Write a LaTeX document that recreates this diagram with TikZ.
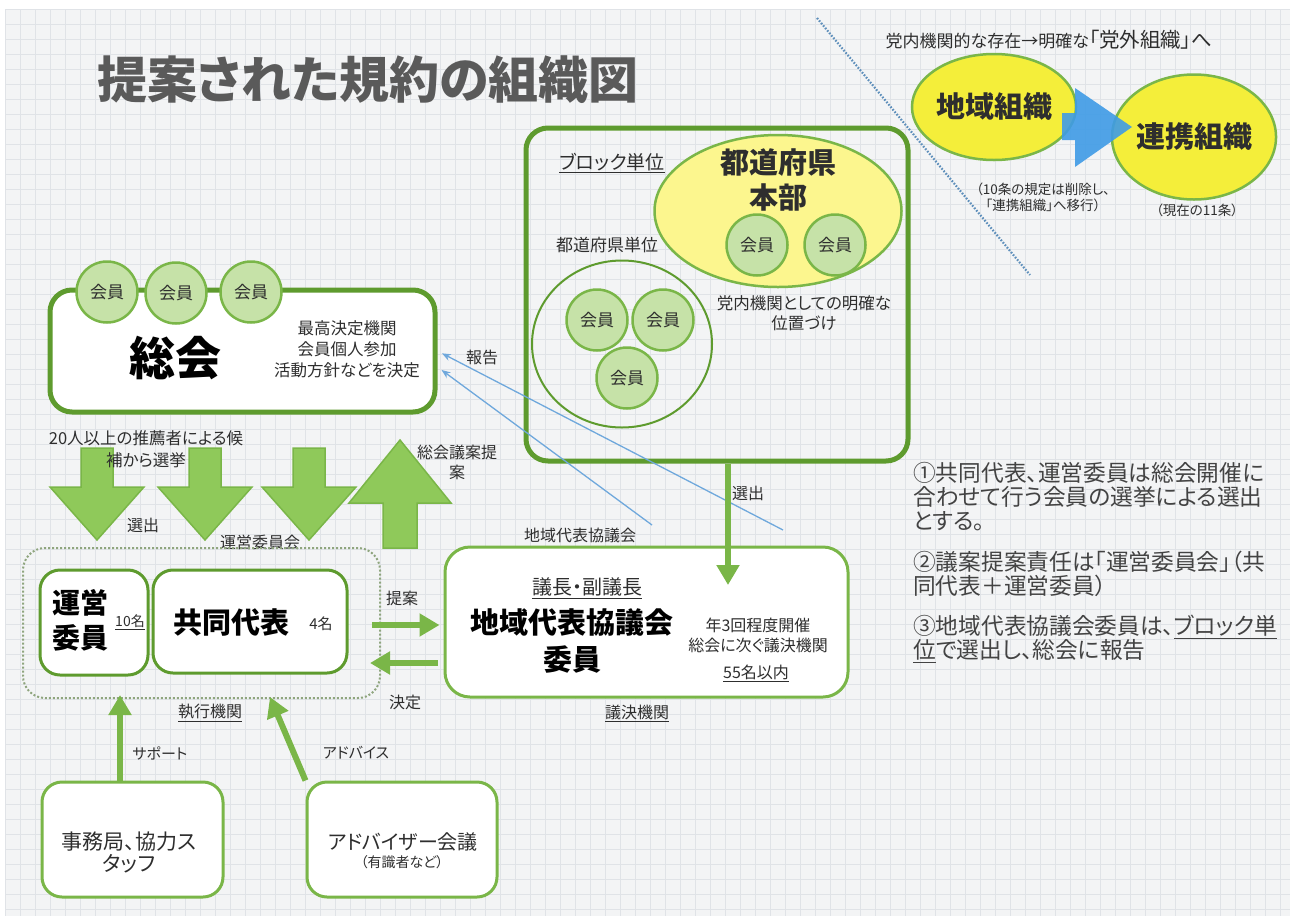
\documentclass[tikz,border=0pt]{standalone}
\usepackage{fontspec}
\setmainfont{Noto Sans CJK JP}[RawFeature=+palt]
\usetikzlibrary{shapes.geometric,arrows.meta}
\definecolor{gdark}{HTML}{5E9B2E}
\definecolor{gmid}{HTML}{7AB648}
\definecolor{gfill}{HTML}{C6E2A8}
\definecolor{garrow}{HTML}{8FC95A}
\definecolor{ybright}{HTML}{F4EE3A}
\definecolor{ypale}{HTML}{FCF68E}
\definecolor{bline}{HTML}{6FA8DC}
\definecolor{barrow}{HTML}{3F9BE6}
\definecolor{txt}{HTML}{2E2E2E}
\definecolor{ttl}{HTML}{5A5A5A}
\definecolor{bgc}{HTML}{F3F4F5}
\definecolor{gridc}{HTML}{E0E3E7}
\definecolor{dotc}{HTML}{8FA57E}
\newcommand\fs[2]{\fontsize{#1}{#2}\selectfont}
\tikzset{
 lbl/.style={inner sep=0pt, text=txt, align=center},
 member/.style={circle, draw=gmid, line width=2.5pt, fill=gfill, minimum size=61pt, inner sep=0pt, text=txt, font=\fs{17}{20}},
 boxthick/.style={draw=gdark, line width=5pt, rounded corners=22pt, fill=white, inner sep=0pt},
 boxthin/.style={draw=gmid, line width=3pt, rounded corners=20pt, fill=white, inner sep=0pt},
 yellowell/.style={ellipse, draw=gmid, line width=2.5pt, inner sep=0pt, text=txt},
 garr/.style={draw=gmid, line width=6pt, -{Triangle[width=22pt,length=20pt]}},
 blarr/.style={draw=bline, line width=1.3pt, -{Stealth[length=9pt,width=7pt]}},
 blockarr/.style={fill=garrow, draw=gmid, line width=1.5pt, line join=miter},
 dnarr/.pic={\path[blockarr] (-16,0)--(16,0)--(16,39)--(47,39)--(0,92)--(-47,39)--(-16,39)--cycle;},
 uparr/.pic={\path[blockarr] (0,0)--(51,63)--(17,63)--(17,108)--(-17,108)--(-17,63)--(-51,63)--cycle;},
}
\begin{document}
\begin{tikzpicture}[x=1pt,y=-1pt]
\useasboundingbox (0,0) rectangle (1292,919);
\fill[white] (0,0) rectangle (1292,919);
\fill[bgc] (5,9) rectangle (1290,916);
\foreach \gx in {5,20,...,1290} \draw[gridc, line width=0.6pt] (\gx,9) -- (\gx,916);
\foreach \gy in {9,24,...,916} \draw[gridc, line width=0.6pt] (5,\gy) -- (1290,\gy);

% title
\node[lbl, text=ttl, font=\fs{50}{50}\bfseries] (title) at (368,80) {提案された規約の組織図};

% dotted divider
\coordinate (dA) at (817,18);
\coordinate (dB) at (1030,275);
\draw[bline!85!black, line width=2.2pt, dash pattern=on 1.6pt off 1.6pt] (dA) -- (dB);

% top right
\node[lbl, font=\fs{17}{18}] (toptxt) at (1049,40) {党内機関的な存在→明確な{\fs{20.5}{20}「党外組織」へ}};
\node[yellowell, fill=ybright, minimum width=146pt, minimum height=106pt, font=\fs{29}{30}\bfseries] (chiiki) at (994,107) {地域組織};
\node[yellowell, fill=ybright, minimum width=148pt, minimum height=125pt, font=\fs{29}{30}\bfseries] (renkei) at (1194,137) {連携組織};
\fill[barrow, opacity=0.9] (1062,113)--(1075,113)--(1075,88)--(1132,127)--(1075,167)--(1075,140)--(1062,140)--cycle;
\node[lbl, font=\fs{13.5}{16}] (note10) at (1043,197) {（10条の規定は削除し、\\「連携組織」へ移行）};
\node[lbl, font=\fs{13.5}{16}] (note11) at (1197,210) {（現在の11条）};

% block
\node[boxthick, fill=none, minimum width=382pt, minimum height=333pt] (block) at (717,294.5) {};
\node[lbl, font=\fs{19}{20}] (blkunit) at (612,163) {\underline{ブロック単位}};
\node[yellowell, fill=ypale, minimum width=247pt, minimum height=152pt] (honbu) at (778,211) {};
\node[lbl, font=\fs{29}{35}\bfseries] (honbut) at (778,180) {都道府県\\本部};
\node[member] (hm1) at (757,245) {会員};
\node[member] (hm2) at (835,245) {会員};
\node[lbl, font=\fs{17}{20}] (prefunit) at (607,245) {都道府県単位};
\node[ellipse, draw=gdark, line width=2pt, minimum width=180pt, minimum height=167pt, inner sep=0pt] (prefc) at (622,344) {};
\node[member] (pm1) at (597,320) {会員};
\node[member] (pm2) at (663,320) {会員};
\node[member] (pm3) at (627,378) {会員};
\node[lbl, font=\fs{16.5}{20}] (toun) at (804,313) {党内機関としての明確な\\位置づけ};

% sokai
\node[boxthick, minimum width=385pt, minimum height=122pt] (sokai) at (242.5,351) {};
\node[member] (sm1) at (107,292) {会員};
\node[member] (sm2) at (176,293) {会員};
\node[member] (sm3) at (251,292) {会員};
\node[lbl, font=\fs{46}{46}\bfseries, text=black] (sokait) at (175,358) {総会};
\node[lbl, font=\fs{16.5}{21}] (sokaid) at (347,349) {最高決定機関\\会員個人参加\\活動方針などを決定};

% block arrows
\pic at (97,448) {dnarr};
\pic at (205,448) {dnarr};
\pic at (309,448) {dnarr};
\pic at (400,440) {uparr};
\node[lbl, font=\fs{16.5}{22}] (suisen) at (146,449) {20人以上の推薦者による候\\補から選挙};
\node[lbl, font=\fs{16}{18}] (sen1) at (143,525) {選出};
\node[lbl, font=\fs{16}{18}] (ueikai) at (260,542) {運営委員会};
\node[lbl, font=\fs{16}{20}] (gian) at (457,462) {総会議案提\\案};

% executive
\node[draw=dotc, line width=2pt, dash pattern=on 2pt off 2pt, rounded corners=22pt, minimum width=357pt, minimum height=150pt, inner sep=0pt] (exec) at (201.5,623) {};
\node[boxthin, draw=gdark, minimum width=108pt, minimum height=105pt] (unei) at (94,622.5) {};
\node[lbl, font=\fs{28}{35}\bfseries, text=black] (ueit) at (80,620) {運営\\委員};
\node[lbl, font=\fs{14}{16}] (ten) at (130,622) {\underline{10名}};
\node[boxthin, draw=gdark, minimum width=194pt, minimum height=103pt] (kyodo) at (250,621.5) {};
\node[lbl, font=\fs{29}{30}\bfseries, text=black] (kyodot) at (231,622) {共同代表};
\node[lbl, font=\fs{15}{16}] (four) at (321,624) {4名};
\node[lbl, font=\fs{16}{18}] (shikko) at (210,713) {\underline{執行機関}};

% council
\node[boxthin, rounded corners=25pt, minimum width=403pt, minimum height=150pt] (giin) at (646.5,622) {};
\node[lbl, font=\fs{20}{22}] (gicho) at (587,588) {\underline{議長・副議長}};
\node[lbl, font=\fs{29}{37}\bfseries, text=black] (giint) at (572,641) {地域代表協議会\\委員};
\node[lbl, font=\fs{16}{20}] (giind) at (758,635) {年3回程度開催\\総会に次ぐ議決機関};
\node[lbl, font=\fs{16}{18}] (gi55) at (756,673) {\underline{55名以内}};
\node[lbl, font=\fs{16}{18}] (giketsu) at (637,713) {\underline{議決機関}};
\node[lbl, font=\fs{16}{18}] (giinlbl) at (580,535) {地域代表協議会};

% blue report lines
\coordinate (hA) at (783,530);
\coordinate (hB) at (652,525);
\draw[blarr, shorten >=5pt] (hA) -- (sokai.east);
\draw[blarr, shorten >=5pt] (hB) -- ([yshift=-16pt]sokai.east);
\node[lbl, font=\fs{16}{18}] (hokoku) at (482,357) {報告};

% green arrows
\coordinate (sel) at (728,585);
\draw[garr] (block.south -| sel) -- (sel);
\node[lbl, font=\fs{16}{18}] (sen2) at (748,493) {選出};
\draw[garr, shorten <=-9pt, shorten >=4pt] ([yshift=-2pt]exec.east) -- ([yshift=-3pt]giin.west);
\draw[garr, shorten <=6pt, shorten >=-11pt] ([yshift=-41pt]giin.west) -- ([yshift=-40pt]exec.east);
\node[lbl, font=\fs{16}{18}] (teian) at (402,598) {提案};
\node[lbl, font=\fs{16}{18}] (kettei) at (405,702) {決定};

% bottom boxes
\node[boxthin, minimum width=181pt, minimum height=115pt] (jimu) at (132.5,839.5) {};
\node[lbl, font=\fs{21}{22}] (jimut) at (129,852) {事務局、協力ス\\タッフ};
\node[boxthin, minimum width=190pt, minimum height=115pt] (adv) at (402,839.5) {};
\node[lbl, font=\fs{20}{22}] (advt) at (403,842) {アドバイザー会議};
\node[lbl, font=\fs{14}{16}] (advs) at (402,862) {（有識者など）};
\coordinate (supT) at (120,695);
\draw[garr] (jimu.north -| supT) -- (supT);
\coordinate (advT) at (270,697);
\draw[garr] (adv.north west) -- (advT);
\node[lbl, font=\fs{15}{18}] (support) at (160,753) {サポート};
\node[lbl, font=\fs{15}{18}] (advice) at (356,753) {アドバイス};

% notes
\node[lbl, anchor=west, align=left, font=\fs{22.7}{24}, text=txt!90] (n1) at (913,497) {①共同代表、運営委員は総会開催に\\合わせて行う会員の選挙による選出\\とする。};
\node[lbl, anchor=west, align=left, font=\fs{22.7}{24}, text=txt!90] (n2) at (913,574) {②議案提案責任は「運営委員会」（共\\同代表＋運営委員）};
\node[lbl, anchor=west, align=left, font=\fs{22.7}{24}, text=txt!90] (n3) at (913,639) {③地域代表協議会委員は、\underline{ブロック単}\\\underline{位}で選出し、総会に報告};
\end{tikzpicture}
\end{document}
